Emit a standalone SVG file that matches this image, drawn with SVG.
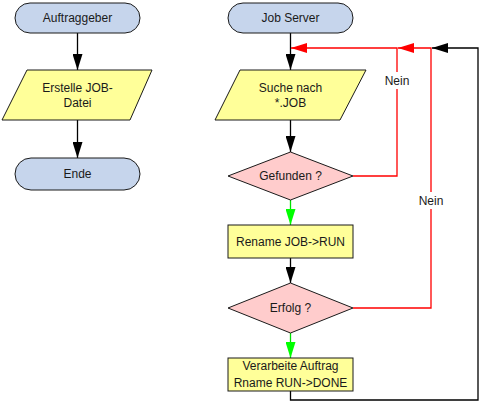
<svg xmlns="http://www.w3.org/2000/svg" width="481" height="404" viewBox="0 0 481 404">
<defs>
<style>
text{font-family:"Liberation Sans",Arial,sans-serif;font-size:12px;fill:#1a1a1a;text-anchor:middle;dominant-baseline:central}
.term{fill:#c6d5ec;stroke:#1a1a1a;stroke-width:1}
.io{fill:#ffff99;stroke:#1a1a1a;stroke-width:1}
.proc{fill:#ffff99;stroke:#1a1a1a;stroke-width:1}
.dec{fill:#ffcccc;stroke:#1a1a1a;stroke-width:1}
.blk{fill:none;stroke:#000;stroke-width:1.3}
.red{fill:none;stroke:#ff0000;stroke-width:1.3}
.grn{fill:none;stroke:#00e000;stroke-width:1.3}
</style>
<marker id="ab" viewBox="0 0 16 10" refX="16" refY="5" markerWidth="16" markerHeight="10" markerUnits="userSpaceOnUse" orient="auto"><path d="M0,0 L16,5 L0,10 Z" fill="#000"/></marker>
<marker id="ar" viewBox="0 0 16 10" refX="16" refY="5" markerWidth="16" markerHeight="10" markerUnits="userSpaceOnUse" orient="auto"><path d="M0,0 L16,5 L0,10 Z" fill="#ff0000"/></marker>
<marker id="ag" viewBox="0 0 16 10" refX="16" refY="5" markerWidth="16" markerHeight="10" markerUnits="userSpaceOnUse" orient="auto"><path d="M0,0 L16,5 L0,10 Z" fill="#00ff00"/></marker>
</defs>
<g id="connectors">
<path class="blk" d="M77.5,33 V70" marker-end="url(#ab)"/>
<path class="blk" d="M77.5,120 V158" marker-end="url(#ab)"/>
<path class="blk" d="M290.5,33 V70" marker-end="url(#ab)"/>
<path class="blk" d="M290.5,120 V152" marker-end="url(#ab)"/>
<path class="grn" d="M290.5,200 V225" marker-end="url(#ag)"/>
<path class="blk" d="M290.5,258 V283" marker-end="url(#ab)"/>
<path class="grn" d="M290.5,333 V358" marker-end="url(#ag)"/>
<path class="red" d="M353,176 H397 V48 H291" marker-end="url(#ar)"/>
<path class="red" d="M353,308 H431 V48 H398" marker-end="url(#ar)"/>
<path class="blk" d="M290.5,391 V400 H478 V48 H432" marker-end="url(#ab)"/>
<rect x="382" y="72" width="30" height="17" fill="#fff"/>
<text x="397" y="81">Nein</text>
<rect x="416" y="192" width="30" height="17" fill="#fff"/>
<text x="431" y="200.5">Nein</text>
</g>
<g id="auftraggeber">
<rect class="term" x="15" y="3" width="125" height="30" rx="15"/>
<text x="77.5" y="18">Auftraggeber</text>
</g>
<g id="erstelle">
<polygon class="io" points="27,70 152,70 130,120 2,120"/>
<text x="77.5" y="88">Erstelle JOB-</text>
<text x="77.5" y="103">Datei</text>
</g>
<g id="ende">
<rect class="term" x="15" y="158" width="125" height="32" rx="16"/>
<text x="77.5" y="174">Ende</text>
</g>
<g id="jobserver">
<rect class="term" x="228" y="3" width="125" height="30" rx="15"/>
<text x="290.5" y="18">Job Server</text>
</g>
<g id="suche">
<polygon class="io" points="240,70 366,70 340,120 215,120"/>
<text x="290.5" y="88">Suche nach</text>
<text x="290.5" y="103">*.JOB</text>
</g>
<g id="gefunden">
<polygon class="dec" points="290.5,152 353,176 290.5,200 228,176"/>
<text x="290.5" y="176">Gefunden ?</text>
</g>
<g id="rename">
<rect class="proc" x="228" y="225" width="125" height="33"/>
<text x="290.5" y="242">Rename JOB-&gt;RUN</text>
</g>
<g id="erfolg">
<polygon class="dec" points="290.5,283 353,308 290.5,333 228,308"/>
<text x="290.5" y="308">Erfolg ?</text>
</g>
<g id="verarbeite">
<rect class="proc" x="228" y="358" width="125" height="33"/>
<text x="290.5" y="366">Verarbeite Auftrag</text>
<text x="290.5" y="383">Rname RUN-&gt;DONE</text>
</g>
</svg>
